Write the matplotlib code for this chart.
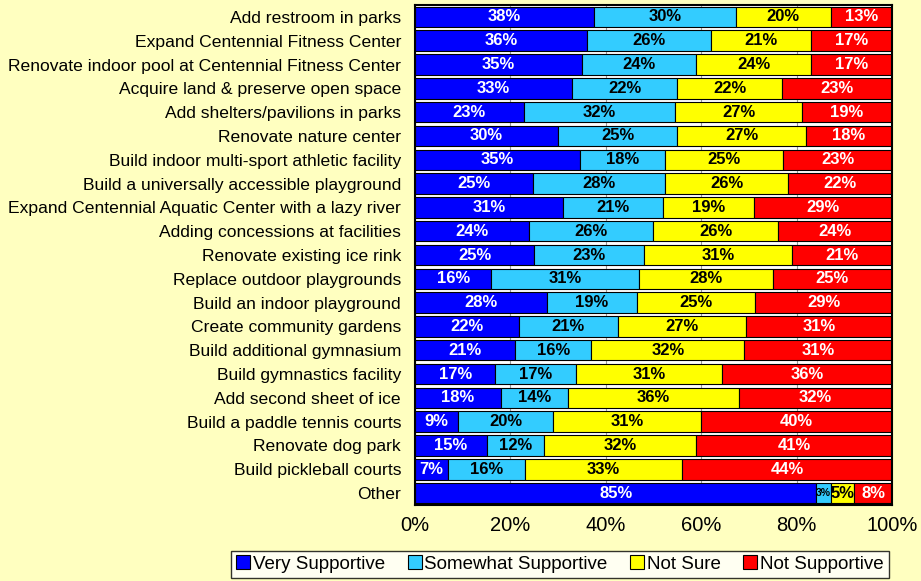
import matplotlib.pyplot as plt
import numpy as np

plt.rcParams["font.family"] = ["Liberation Sans", "DejaVu Sans"]

CATEGORIES = [
    "Add restroom in parks",
    "Expand Centennial Fitness Center",
    "Renovate indoor pool at Centennial Fitness Center",
    "Acquire land & preserve open space",
    "Add shelters/pavilions in parks",
    "Renovate nature center",
    "Build indoor multi-sport athletic facility",
    "Build a universally accessible playground",
    "Expand Centennial Aquatic Center with a lazy river",
    "Adding concessions at facilities",
    "Renovate existing ice rink",
    "Replace outdoor playgrounds",
    "Build an indoor playground",
    "Create community gardens",
    "Build additional gymnasium",
    "Build gymnastics facility",
    "Add second sheet of ice",
    "Build a paddle tennis courts",
    "Renovate dog park",
    "Build pickleball courts",
    "Other",
]

VERY = [38, 36, 35, 33, 23, 30, 35, 25, 31, 24, 25, 16, 28, 22, 21, 17, 18, 9, 15, 7, 85]
SOMEWHAT = [30, 26, 24, 22, 32, 25, 18, 28, 21, 26, 23, 31, 19, 21, 16, 17, 14, 20, 12, 16, 3]
NOT_SURE = [20, 21, 24, 22, 27, 27, 25, 26, 19, 26, 31, 28, 25, 27, 32, 31, 36, 31, 32, 33, 5]
NOT_SUPP = [13, 17, 17, 23, 19, 18, 23, 22, 29, 24, 21, 25, 29, 31, 31, 36, 32, 40, 41, 44, 8]

SERIES = [
    ("Very Supportive", VERY, "#0000FF", "white"),
    ("Somewhat Supportive", SOMEWHAT, "#33CCFF", "black"),
    ("Not Sure", NOT_SURE, "#FFFF00", "black"),
    ("Not Supportive", NOT_SUPP, "#FF0000", "white"),
]

BG = "#FFFFC0"

fig = plt.figure(figsize=(9.21, 5.81), dpi=100, facecolor=BG)
ax = fig.add_axes([0.4506, 0.1308, 0.5179, 0.8606])
ax.set_facecolor("white")

totals = np.sum([s[1] for s in SERIES], axis=0)
y = np.arange(len(CATEGORIES))
left = np.zeros(len(CATEGORIES))

for name, vals, color, tcolor in SERIES:
    w = np.array(vals) / totals * 100
    ax.barh(y, w, left=left, height=0.86, color=color, edgecolor="black",
            linewidth=0.8, label=name, zorder=2)
    for yi, (wi, li, v) in enumerate(zip(w, left, vals)):
        fs = 12 if v >= 5 else 7.5
        ax.text(li + wi / 2, yi, f"{v}%", ha="center", va="center", fontsize=fs,
                fontweight="bold", color=tcolor, zorder=3)
    left += w

ax.set_xlim(0, 100)
ax.set_ylim(len(CATEGORIES) - 0.5, -0.5)
ax.set_yticks(y)
ax.set_yticklabels(CATEGORIES, fontsize=12.6)
ax.set_xticks(np.arange(0, 101, 20))
ax.set_xticklabels([f"{t}%" for t in range(0, 101, 20)], fontsize=14.5)
ax.tick_params(axis="y", length=0, pad=10)
ax.tick_params(axis="x", length=0, pad=8)
ax.xaxis.grid(True, color="#999999", linewidth=0.8, zorder=0)
ax.set_axisbelow(True)
for sp in ax.spines.values():
    sp.set_linewidth(1.5)
    sp.set_color("black")

leg = fig.legend(loc="center", bbox_to_anchor=(0.608, 0.029), ncol=4, fontsize=13.5,
                 frameon=True, fancybox=False, edgecolor="black", handlelength=0.75,
                 handleheight=0.75, handletextpad=0.15, columnspacing=1.2,
                 borderpad=0.25)
leg.get_frame().set_facecolor("white")
leg.get_frame().set_linewidth(1.0)

fig.savefig("out.png", dpi=100, facecolor=BG)
